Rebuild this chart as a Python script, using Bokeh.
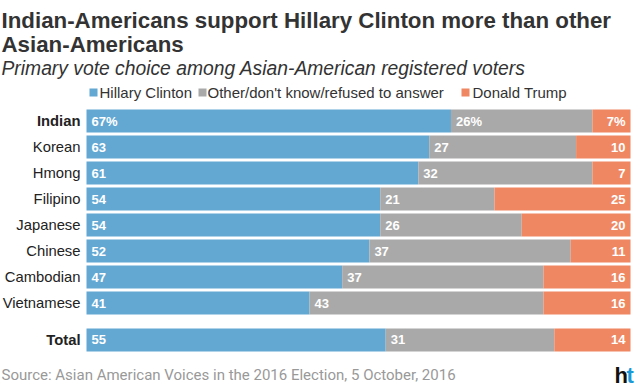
from bokeh.plotting import figure
from bokeh.models import ColumnDataSource, Range1d, Label, BoxAnnotation
from bokeh.core.properties import value
from bokeh.embed import file_html
from bokeh.resources import INLINE

# ---- data ----
groups = ["Indian", "Korean", "Hmong", "Filipino", "Japanese", "Chinese",
          "Cambodian", "Vietnamese", "Total"]
clinton = [67, 63, 61, 54, 54, 52, 47, 41, 55]
other = [26, 27, 32, 21, 26, 37, 37, 43, 31]
trump = [7, 10, 7, 25, 20, 11, 16, 16, 14]
series_names = ["Hillary Clinton", "Other/don't know/refused to answer", "Donald Trump"]
bold_groups = ["Indian", "Total"]

title_lines = ["Indian-Americans support Hillary Clinton more than other",
               "Asian-Americans"]
subtitle = "Primary vote choice among Asian-American registered voters"
source_text = "Source: Asian American Voices in the 2016 Election, 5 October, 2016"

# ---- styles / layout ----
colors = ["#63a8d3", "#a9a9a9", "#ef8862"]
FONT = "Liberation Sans"
W, H = 640, 391
X0, X1 = 86, 630            # canvas px where 0 and 100 sit
PITCH = 26.0                # px per row
ROW0 = 120.5                # canvas y of first row centre
TOTAL_GAP = 0.42            # extra rows of space before the total row
scale = (X1 - X0) / 100.0

def sy(cy):
    return H - cy

ypos = [i + (TOTAL_GAP if g == "Total" else 0.0) for i, g in enumerate(groups)]
fmt = lambda i, v: f"{v}%" if i == 0 else f"{v}"
src = ColumnDataSource(dict(
    y=ypos,
    name=groups,
    style=["bold" if g in bold_groups else "normal" for g in groups],
    clinton=clinton, other=other, trump=trump,
    lab_c=[fmt(i, v) for i, v in enumerate(clinton)],
    lab_o=[fmt(i, v) for i, v in enumerate(other)],
    lab_t=[fmt(i, v) for i, v in enumerate(trump)],
    hundred=[c + o + t for c, o, t in zip(clinton, other, trump)],
    zero=[0] * len(groups),
))

xr = Range1d(-X0 / scale, 100 + (W - X1) / scale)
yr = Range1d((H - ROW0) / PITCH, -ROW0 / PITCH)

p = figure(width=W, height=H, x_range=xr, y_range=yr, output_backend="svg",
           toolbar_location=None, x_axis_location=None, y_axis_location=None,
           min_border=0, outline_line_color=None,
           background_fill_color="white", border_fill_color="white")
p.xgrid.visible = False
p.ygrid.visible = False

p.hbar_stack(["clinton", "other", "trump"], y="y", height=23 / PITCH, color=colors,
             line_color=None, source=src)

common = dict(y="y", source=src, text_baseline="middle", text_font=value(FONT),
              text_font_size="13px", text_color="white", text_font_style="bold")
p.text(x="zero", text="lab_c", x_offset=5, **common)
p.text(x="clinton", text="lab_o", x_offset=5, **common)
p.text(x="hundred", text="lab_t", x_offset=-5, text_align="right", **common)

p.text(x="zero", y="y", text="name", source=src, x_offset=-6, text_align="right",
       text_baseline="middle", text_font=value(FONT), text_font_size="14.8px",
       text_color="#222222", text_font_style="style")

# ---- titles ----
p.add_layout(Label(x=1, y=sy(20), x_units="screen", y_units="screen", text=title_lines[0],
                   text_font=FONT, text_font_size="22.3px", text_font_style="bold",
                   text_color="#333333", text_baseline="alphabetic"))
p.add_layout(Label(x=1, y=sy(44), x_units="screen", y_units="screen", text=title_lines[1],
                   text_font=FONT, text_font_size="22.3px", text_font_style="bold",
                   text_color="#333333", text_baseline="alphabetic"))
p.add_layout(Label(x=1, y=sy(68), x_units="screen", y_units="screen", text=subtitle,
                   text_font=FONT, text_font_size="19.3px", text_font_style="italic",
                   text_color="#333333", text_baseline="alphabetic"))

# ---- legend ----
leg_sq_x = [89, 198, 461]
leg_tx_x = [99, 207, 472]
for name, col, sx0, tx in zip(series_names, colors, leg_sq_x, leg_tx_x):
    p.add_layout(BoxAnnotation(left=sx0, right=sx0 + 8, top=88, bottom=96,
                               left_units="canvas", right_units="canvas",
                               top_units="canvas", bottom_units="canvas",
                               fill_color=col, fill_alpha=1, line_color=None))
    p.add_layout(Label(x=tx, y=sy(92), x_units="screen", y_units="screen", text=name,
                       text_font=FONT, text_font_size="15px", text_color="#333333",
                       text_baseline="middle"))

# ---- source & logo ----
p.add_layout(Label(x=1, y=sy(374), x_units="screen", y_units="screen", text=source_text,
                   text_font="Roboto", text_font_size="15px", text_color="#999999",
                   text_baseline="middle"))
p.add_layout(Label(x=614, y=sy(375), x_units="screen", y_units="screen", text="h",
                   text_font=FONT, text_font_size="22px", text_font_style="bold",
                   text_color="#111111", text_baseline="middle"))
p.add_layout(Label(x=626, y=sy(375), x_units="screen", y_units="screen", text="t",
                   text_font=FONT, text_font_size="22px", text_font_style="bold",
                   text_color="#1a9ad6", text_baseline="middle"))

open("out.html", "w").write(file_html(p, INLINE))
